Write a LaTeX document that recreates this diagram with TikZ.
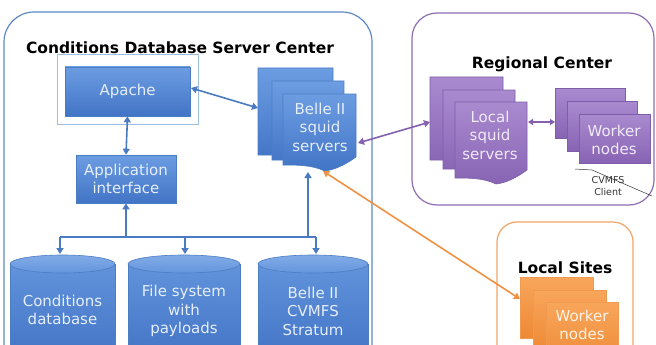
\documentclass[tikz,border=0pt]{standalone}
\usepackage{fontspec}
\setmainfont{DejaVu Sans}
\usetikzlibrary{arrows.meta}
\definecolor{bluetop}{HTML}{6C9DE2}
\definecolor{bluebot}{HTML}{4274C6}
\definecolor{blueline}{HTML}{4C7CC4}
\definecolor{bluetext}{HTML}{E6EEFA}
\definecolor{framebl}{HTML}{5E89C6}
\definecolor{apfr}{HTML}{9DBDE3}
\definecolor{bluearrow}{HTML}{4A7AC2}
\definecolor{purtop}{HTML}{A98ACF}
\definecolor{purbot}{HTML}{8864B4}
\definecolor{purline}{HTML}{7E5EA9}
\definecolor{framepu}{HTML}{8E6DB4}
\definecolor{purtext}{HTML}{F0EAF7}
\definecolor{purarrow}{HTML}{8460AE}
\definecolor{ortop}{HTML}{F8A65C}
\definecolor{orbot}{HTML}{EE8934}
\definecolor{orline}{HTML}{F09A50}
\definecolor{frameor}{HTML}{F2A466}
\definecolor{ortext}{HTML}{FFF3E6}
\definecolor{orarrow}{HTML}{EF9243}
\newcommand\mydoc[5]{%
  \pgfmathsetmacro\dw{#3-#1}%
  \path[#5] (#1,#2) -- (#3,#2) -- (#3,#4)
    .. controls ({#3-0.15*\dw},{#4+8}) and ({#1+0.7*\dw},{#4+13}) .. ({#1+0.57*\dw},{#4+14})
    .. controls ({#1+0.4*\dw},{#4+8}) and ({#1+0.2*\dw},{#4+8}) .. (#1,{#4+8}) -- cycle;}
\newcommand\mycyl[2]{%
  \pgfmathsetmacro\cx{(#1+#2)/2}\pgfmathsetmacro\rx{(#2-#1)/2}%
  \path[cylbody] (#1,264) -- (#1,360) -- (#2,360) -- (#2,264) -- cycle;
  \path[cyltop] (\cx,264) ellipse[x radius=\rx, y radius=9];}
\newcommand\tfnt{\fontsize{15}{18.5}\selectfont}
\newcommand\hfnt{\fontsize{15.5}{18}\selectfont\bfseries}
\newcommand\smfnt{\fontsize{9.5}{12}\selectfont}
\tikzset{
  bluebox/.style={top color=bluetop, bottom color=bluebot, draw=blueline, line width=0.6pt, text=bluetext, font=\tfnt, align=center, inner sep=0pt},
  bluedoc/.style={top color=bluetop, bottom color=bluebot, draw=blueline, line width=0.6pt},
  purdoc/.style={top color=purtop, bottom color=purbot, draw=purline, line width=0.6pt},
  ordoc/.style={top color=ortop, bottom color=orbot, draw=orline, line width=0.6pt},
  cylbody/.style={top color=bluetop!75!bluebot, bottom color=bluebot, draw=blueline, line width=0.6pt},
  cyltop/.style={top color=bluetop!85!white, bottom color=bluetop!80!bluebot, draw=blueline, line width=0.6pt},
  txtb/.style={text=bluetext, font=\tfnt, align=center},
  txtp/.style={text=purtext, font=\tfnt, align=center},
  txto/.style={text=ortext, font=\tfnt, align=center},
  title/.style={font=\hfnt, text=black},
  bline/.style={draw=bluearrow, line width=1.6pt},
  pline/.style={draw=purarrow, line width=1.6pt},
  oline/.style={draw=orarrow, line width=1.6pt},
  smalltips/.style={>={Triangle[length=5pt,width=6pt]}},
}
\begin{document}
\begin{tikzpicture}[x=1pt,y=-1pt,>={Triangle[length=6pt,width=7pt]}]
\useasboundingbox (0,0) rectangle (656,345);
\clip (0,0) rectangle (656,345);
\fill[white] (0,0) rectangle (656,345);
% frames
\draw[framebl, line width=1.2pt, rounded corners=30pt] (4,12) rectangle (372,390);
\draw[framepu, line width=1.2pt, rounded corners=25pt] (412,13) rectangle (654,205);
\draw[frameor, line width=1.2pt, rounded corners=20pt] (497,222) rectangle (633,390);
% titles
\node[title] (t1) at (180,48) {Conditions Database Server Center};
\node[title] (t2) at (542,64) {Regional Center};
\node[title] (t3) at (565,268) {Local Sites};
% apache
\draw[apfr, line width=1pt] (57,55) rectangle (198,124);
\node[bluebox, minimum width=125pt, minimum height=49pt] (apache) at (127.5,91.5) {Apache};
\node[bluebox, minimum width=100pt, minimum height=48pt] (appif) at (126,179) {Application\\interface};
% Belle squid docs
\mydoc{258}{68}{333}{147}{bluedoc}
\mydoc{272}{81}{344}{152}{bluedoc}
\mydoc{283}{94}{356}{157}{bluedoc}
\node[txtb] (squid) at (320,127) {Belle II\\squid\\servers};
% cylinders
\mycyl{10}{115}
\mycyl{128}{240}
\mycyl{258}{368}
\node[txtb] (cond) at (62.5,310) {Conditions\\database};
\node[txtb] (fsys) at (184,311) {File system\\with\\payloads};
\node[txtb] (cvmfs) at (313,311) {Belle II\\CVMFS\\Stratum};
% regional
\mydoc{430}{77}{503}{152}{purdoc}
\mydoc{443}{90}{515}{161}{purdoc}
\mydoc{455}{102}{527}{170}{purdoc}
\node[txtp] (lsquid) at (490,135) {Local\\squid\\servers};
\path[purdoc] (555,88) rectangle (625,138);
\path[purdoc] (567,101) rectangle (637,151);
\path[purdoc] (579,114) rectangle (650,163);
\node[txtp] (rwork) at (614,140) {Worker\\nodes};
\node[font=\smfnt, align=center, text=black!80] (cvc) at (608,186) {CVMFS\\Client};
\coordinate (cva) at (575,169);
\coordinate (cvb) at (592,170);
\coordinate (cvc2) at (652,196);
\draw[black!80, line width=0.5pt] (cva) -- (cvb) -- (cvc2);
% local sites
\path[ordoc] (520,277) rectangle (593,338);
\path[ordoc] (533,290) rectangle (606,351);
\path[ordoc] (546,302) rectangle (618,365);
\node[txto] (lwork) at (582,325) {Worker\\nodes};
% connectors
\coordinate (apR) at (191,88);
\coordinate (sqL) at (258,108);
\draw[bline, <->] (apR) -- (sqL);
\draw[bline, <->] (apache.south) -- (appif.north);
\coordinate (busL) at (60,237);
\coordinate (busR) at (316,237);
\coordinate (busA) at (126,237);
\coordinate (busF) at (185,237);
\coordinate (busS) at (308,237);
\coordinate (condT) at (60,254);
\coordinate (fsT) at (185,254);
\coordinate (cvT) at (316,254);
\coordinate (sqB) at (308,172);
\draw[bline] (busL) -- (busR);
\draw[bline, ->] (busA) -- (appif.south);
\draw[bline, ->] (busL) -- (condT);
\draw[bline, ->] (busF) -- (fsT);
\draw[bline, ->] (busR) -- (cvT);
\draw[bline, ->] (busS) -- (sqB);
\coordinate (sqR) at (358,143);
\coordinate (lsL) at (430,122);
\draw[pline, <->] (sqR) -- (lsL);
\coordinate (lsR) at (528,122);
\coordinate (wkL) at (555,122);
\draw[pline, smalltips, <->] (lsR) -- (wkL);
\coordinate (sqO) at (323,171);
\coordinate (lwO) at (520,299);
\draw[oline, <->] (sqO) -- (lwO);
\end{tikzpicture}
\end{document}
